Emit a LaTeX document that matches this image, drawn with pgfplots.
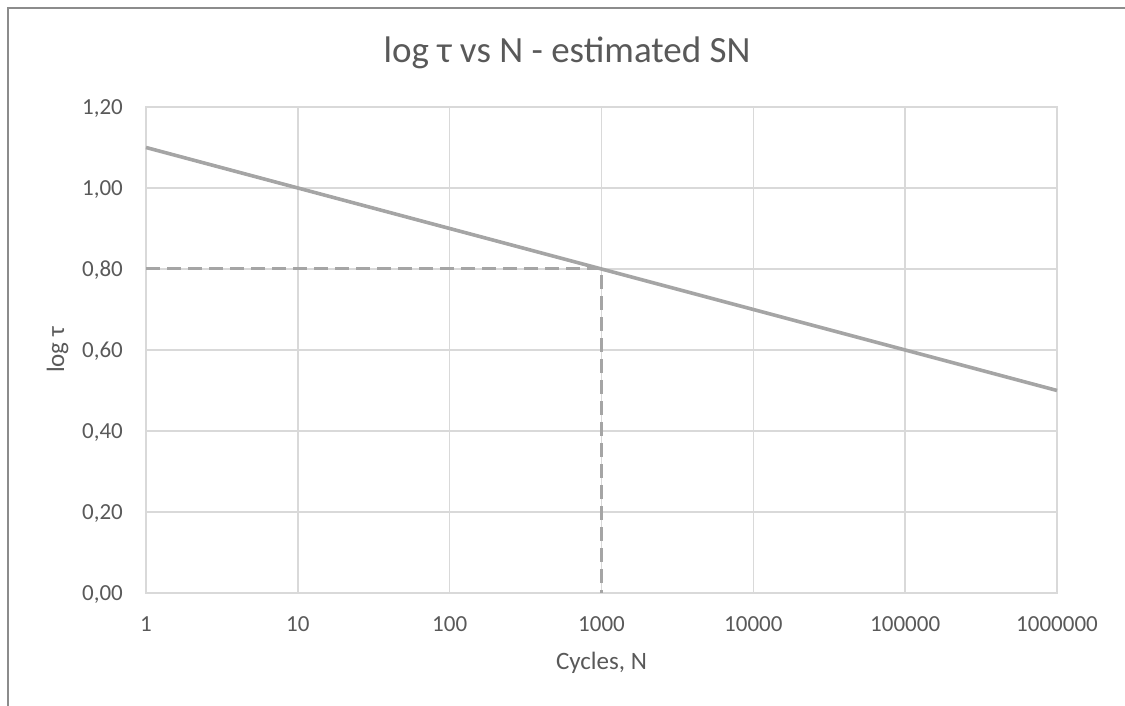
\documentclass[border=0pt]{standalone}
\usepackage{pgfplots}
\pgfplotsset{compat=1.18}
\usepackage{fontspec}
\setmainfont{Carlito}
\definecolor{gridc}{HTML}{D9D9D9}
\definecolor{txt}{HTML}{595959}
\definecolor{linec}{HTML}{A5A5A5}
\definecolor{borderc}{HTML}{8C8C8C}
\begin{document}
\begin{tikzpicture}[x=1bp,y=1bp]
\path[use as bounding box] (0,0) rectangle (1125,706);
\draw[borderc,line width=1.8bp] (8,0) -- (8,698) -- (1125,698);
\begin{axis}[
  at={(146bp,113bp)}, anchor=south west,
  scale only axis, width=911bp, height=486bp,
  xmode=log, log basis x=10,
  xmin=1, xmax=1000000, ymin=0, ymax=1.2,
  xtick={1,10,100,1000,10000,100000,1000000},
  xticklabels={1,10,100,1000,10000,100000,1000000},
  ytick={0,0.2,0.4,0.6,0.8,1.0,1.2},
  yticklabel style={/pgf/number format/fixed,/pgf/number format/fixed zerofill,/pgf/number format/precision=2,/pgf/number format/use comma,/pgf/number format/assume math mode=true},
  scaled y ticks=false,
  grid=major,
  major grid style={gridc,line width=1.5bp},
  axis line style={gridc,line width=1.5bp},
  major tick length=0pt, minor tick length=0pt,
  tick label style={font=\fontsize{23bp}{26bp}\selectfont, text=txt, inner sep=0pt},
  xticklabel style={anchor=base, yshift=-39bp},
  yticklabel style={anchor=base east, xshift=-23bp, yshift=-7.4bp},
  xlabel={Cycles, N}, ylabel={log τ},
  label style={font=\fontsize{25bp}{28bp}\selectfont, text=txt, inner sep=0pt},
  xlabel style={at={(axis description cs:0.5,-0.1564)}, anchor=base},
  ylabel style={at={(axis description cs:-0.0900,0.5)}, anchor=base},
  clip=false,
]
\addplot[linec, line width=3.6bp, no marks] coordinates {(1,1.10) (1000000,0.50)};
\addplot[linec, line width=3bp, dash pattern=on 14bp off 7bp, no marks] coordinates {(1,0.80) (1000,0.80) (1000,0)};
\end{axis}
\node[text=txt, font=\fontsize{37bp}{40bp}\selectfont, anchor=base, inner sep=0pt] at (567,643) {log τ vs N - estimated SN};
\end{tikzpicture}
\end{document}
